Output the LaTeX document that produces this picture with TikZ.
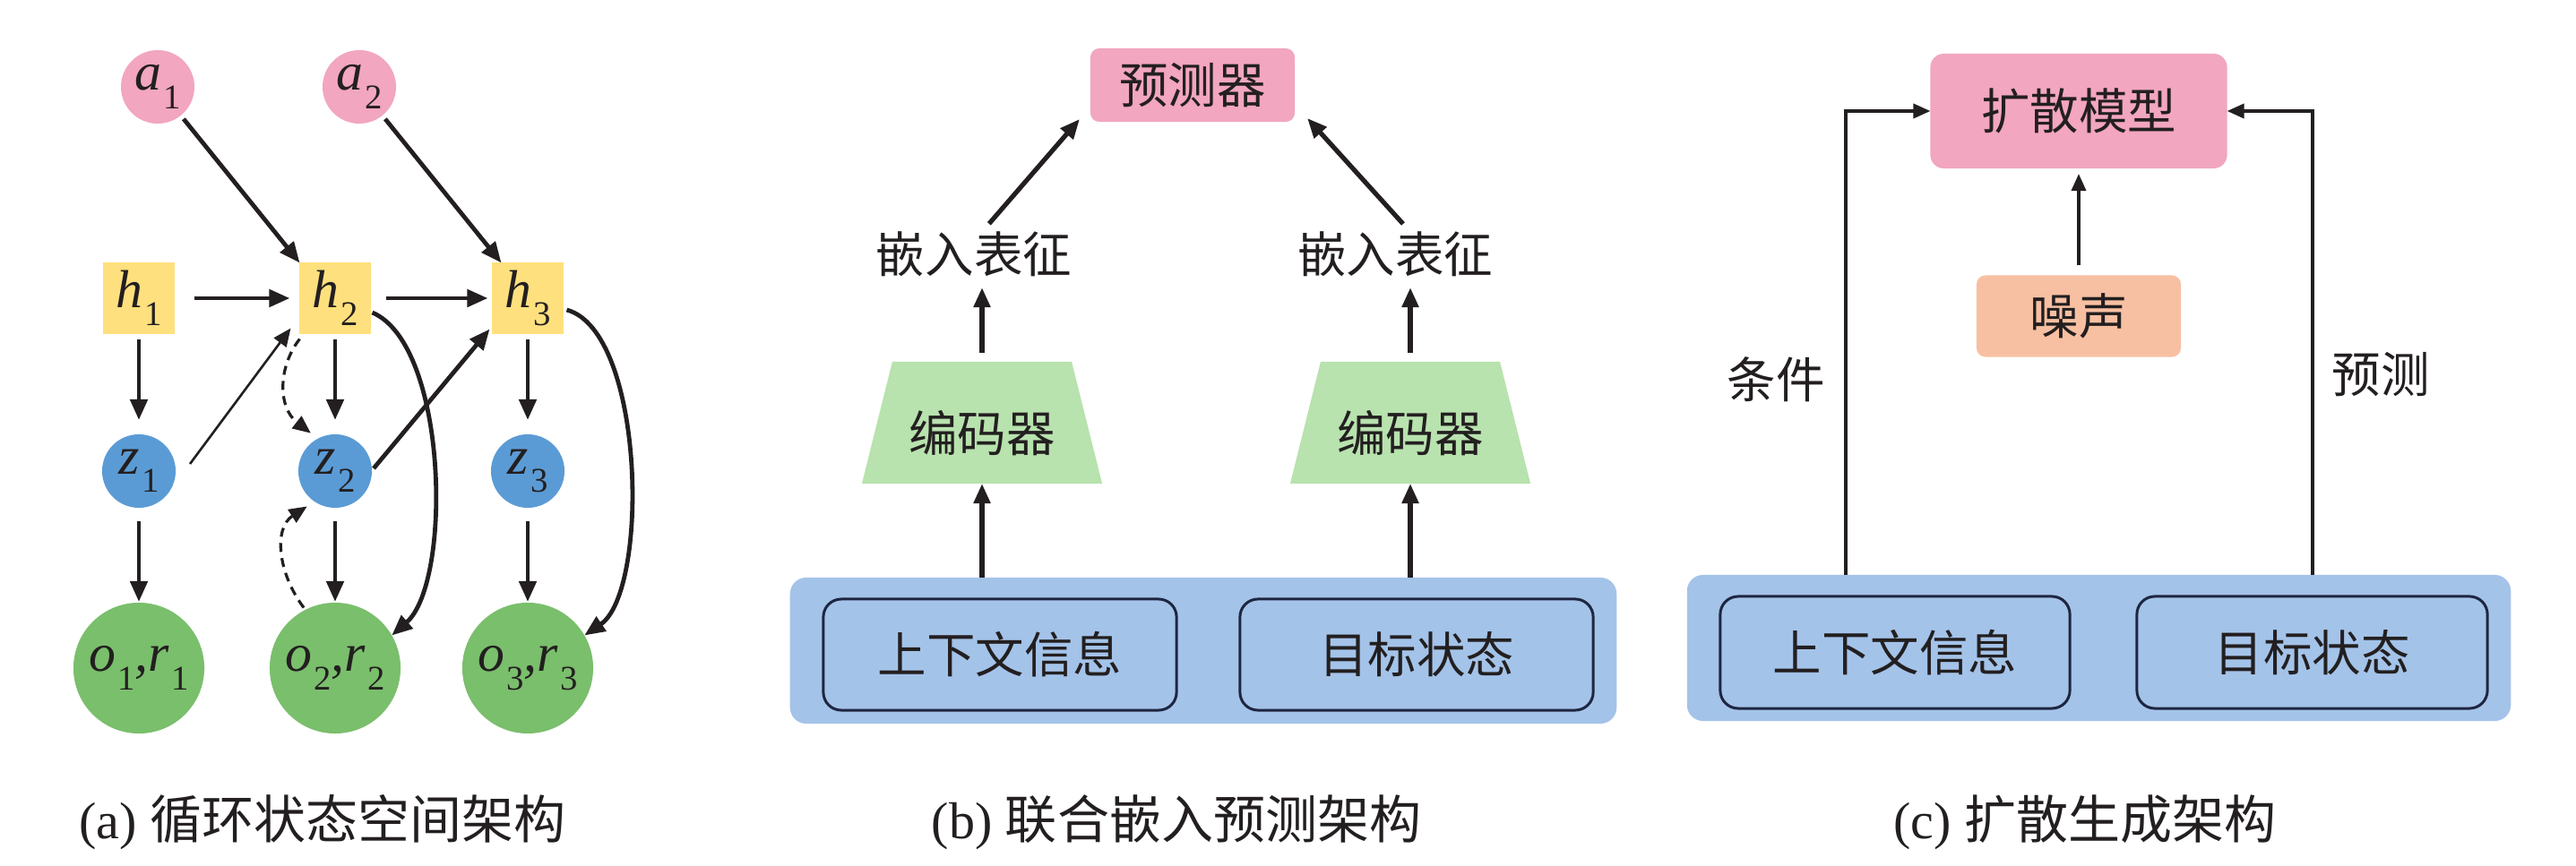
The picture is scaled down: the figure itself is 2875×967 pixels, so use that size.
\documentclass[tikz,border=0pt]{standalone}
\usepackage{fontspec}
\setmainfont{Liberation Serif}
\newfontfamily\cjk{Noto Sans CJK SC}
\usetikzlibrary{arrows.meta,calc}

\definecolor{pinkA}{HTML}{F2A6BF}
\definecolor{yelH}{HTML}{FFE07E}
\definecolor{bluZ}{HTML}{5B9BD5}
\definecolor{grnO}{HTML}{7ABF6C}
\definecolor{barB}{HTML}{A4C3E9}
\definecolor{encG}{HTML}{B8E2AE}
\definecolor{noiseO}{HTML}{F8C0A2}
\definecolor{navy}{HTML}{1E2640}
\definecolor{ink}{HTML}{231F20}

\newcommand\lsub[1]{\hspace{0.6pt}\raisebox{-5.8pt}{\fontsize{11pt}{11pt}\selectfont\upshape #1}}

\begin{document}
\begin{tikzpicture}[x=0.01cm,y=-0.01cm,
  every node/.style={inner sep=0pt, outer sep=0pt, text=ink},
  vars/.style={font=\fontsize{17pt}{17pt}\selectfont\itshape},
  anode/.style={vars, circle, fill=pinkA, minimum size=0.82cm},
  hnode/.style={vars, rectangle, fill=yelH, minimum size=0.79cm},
  znode/.style={vars, circle, fill=bluZ, minimum size=0.82cm},
  onode/.style={vars, circle, fill=grnO, minimum size=1.46cm},
  cjktext/.style={font=\fontsize{15.5pt}{16pt}\selectfont\cjk},
  rbox/.style={cjktext, rectangle, rounded corners=0.1cm},
  barbox/.style={rectangle, fill=barB, rounded corners=0.18cm},
  inbox/.style={cjktext, rectangle, draw=navy, line width=0.03cm, rounded corners=0.2cm, fill=barB},
  captxt/.style={font=\fontsize{16.5pt}{17pt}\selectfont},
  arr/.style={-{Triangle[length=0.23cm,width=0.19cm]}, line width=0.048cm, draw=ink},
  arrthin/.style={-{Triangle[length=0.2cm,width=0.17cm]}, line width=0.026cm, draw=ink},
  arrdash/.style={-{Triangle[length=0.2cm,width=0.17cm]}, line width=0.032cm, draw=ink, dash pattern=on 0.1cm off 0.07cm},
  arrb/.style={-{Triangle[length=0.22cm,width=0.18cm]}, line width=0.052cm, draw=ink},
  arrc/.style={-{Triangle[length=0.19cm,width=0.16cm]}, line width=0.035cm, draw=ink}
]
\fill[white] (0,0) rectangle (2875,967);
\useasboundingbox (0,0) rectangle (2875,967);

% ---------------- (a) ----------------
\node[anode] (a1) at (176,97) {a\lsub{1}};
\node[anode] (a2) at (401,97) {a\lsub{2}};
\node[hnode] (h1) at (155,333) {h\lsub{1}};
\node[hnode] (h2) at (374,333) {h\lsub{2}};
\node[hnode] (h3) at (589,333) {h\lsub{3}};
\node[znode] (z1) at (155,526) {z\lsub{1}};
\node[znode] (z2) at (374,526) {z\lsub{2}};
\node[znode] (z3) at (589,526) {z\lsub{3}};
\node[onode] (o1) at (155,746) {o\lsub{1},r\lsub{1}};
\node[onode] (o2) at (374,746) {o\lsub{2},r\lsub{2}};
\node[onode] (o3) at (589,746) {o\lsub{3},r\lsub{3}};

\draw[arr, shorten <=0.05cm] (a1) -- (h2.north west);
\draw[arr, shorten <=0.05cm] (a2) -- ($(h3.north west)+(10,0)$);
\draw[arr, shorten <=0.22cm, shorten >=0.11cm] (h1) -- (h2);
\draw[arr, shorten <=0.17cm, shorten >=0.05cm] (h2) -- (h3);
\foreach \c in {1,2,3}{
  \draw[arr, shorten <=0.06cm, shorten >=0.16cm] (h\c.south) -- (z\c.north);
  \draw[arr, shorten <=0.15cm, shorten >=0.01cm] (z\c.south) -- (o\c.north);
}
\draw[arrthin] ($(z1.east)+(16,-8)$) -- ($(h2.south west)+(-10,-6)$);
\draw[arr] ($(z2.east)+(2,-3)$) -- ($(h3.south west)+(-3,-5)$);
\draw[arr] ($(h2.east)+(2,16)$) .. controls (500,385) and (505,650) .. (o2.30);
\draw[arr] ($(h3.east)+(4,13)$) .. controls (720,370) and (725,660) .. (o3.30);
\draw[arrdash, shorten >=0.1cm] ($(h2.south west)+(0,6)$) .. controls (310,410) and (310,455) .. (z2.118);
\draw[arrdash, shorten <=0.03cm, shorten >=0.1cm] (o2.117) .. controls (310,640) and (305,590) .. (z2.236);

% ---------------- (b) ----------------
\node[rbox, fill=pinkA, minimum width=2.28cm, minimum height=0.82cm] (pred) at (1331,95) {预测器};
\node[cjktext] (emb1) at (1087,284) {嵌入表征};
\node[cjktext] (emb2) at (1557,284) {嵌入表征};

\node[minimum width=2.68cm, minimum height=1.36cm] (enc1) at (1096,472) {};
\fill[encG] (enc1.south west) -- (enc1.south east) -- ($(enc1.north east)+(-34,0)$) -- ($(enc1.north west)+(34,0)$) -- cycle;
\node[cjktext] (enc1t) at ($(enc1)+(0,12)$) {编码器};
\node[minimum width=2.68cm, minimum height=1.36cm] (enc2) at (1574,472) {};
\fill[encG] (enc2.south west) -- (enc2.south east) -- ($(enc2.north east)+(-34,0)$) -- ($(enc2.north west)+(34,0)$) -- cycle;
\node[cjktext] (enc2t) at ($(enc2)+(0,12)$) {编码器};

\node[barbox, minimum width=9.22cm, minimum height=1.63cm] (barb) at (1343,726.5) {};
\node[inbox, minimum width=3.94cm, minimum height=1.24cm] (ctxb) at (1116,731) {上下文信息};
\node[inbox, minimum width=3.94cm, minimum height=1.24cm] (tgtb) at (1581,731) {目标状态};

\draw[arrb] (barb.north -| enc1) -- (enc1.south);
\draw[arrb] (barb.north -| enc2) -- (enc2.south);
\draw[arrb, shorten <=0.1cm, shorten >=0.12cm] (enc1.north) -- (enc1.north |- emb1.south);
\draw[arrb, shorten <=0.1cm, shorten >=0.12cm] (enc2.north) -- (enc2.north |- emb2.south);
\draw[arrb, shorten <=0.12cm] (emb1.north -| enc1) -- ($(pred.south west)+(-12,-3)$);
\draw[arrb, shorten <=0.12cm] (emb2.north -| enc2) -- ($(pred.south east)+(14,-4)$);

% ---------------- (c) ----------------
\node[rbox, fill=pinkA, rounded corners=0.15cm, minimum width=3.31cm, minimum height=1.28cm] (diff) at (2320,124) {扩散模型};
\node[rbox, fill=noiseO, minimum width=2.28cm, minimum height=0.91cm] (noise) at (2320,353) {噪声};
\node[barbox, minimum width=9.19cm, minimum height=1.63cm] (barc) at (2342.5,723.5) {};
\node[inbox, minimum width=3.9cm, minimum height=1.25cm] (ctxc) at (2115,728.5) {上下文信息};
\node[inbox, minimum width=3.91cm, minimum height=1.25cm] (tgtc) at (2580.5,728.5) {目标状态};
\node[cjktext] (cond) at (1982,424) {条件};
\node[cjktext] (predl) at (2657,418) {预测};

\draw[arrc, shorten <=0.11cm, shorten >=0.06cm] (noise.north) -- (diff.south);
\draw[arrc] ($(barc.north west)+(177,0)$) |- (diff.west);
\draw[arrc] ($(barc.north west)+(698,0)$) |- (diff.east);

% ---------------- captions ----------------
\node[captxt] (capa) at (360,918) {(a) {\cjk 循环状态空间架构}};
\node[captxt] (capb) at (1313,918) {(b) {\cjk 联合嵌入预测架构}};
\node[captxt] (capc) at (2327,918) {(c) {\cjk 扩散生成架构}};
\end{tikzpicture}
\end{document}
